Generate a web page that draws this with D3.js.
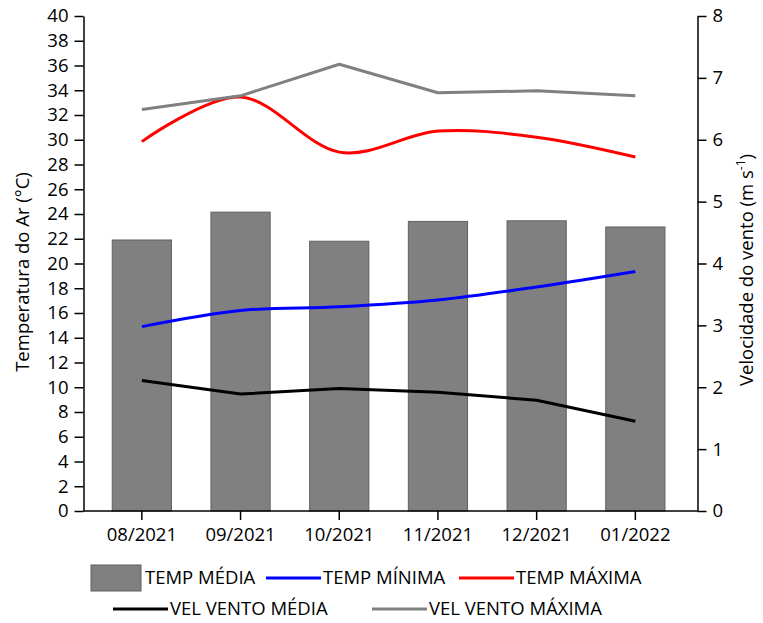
<!DOCTYPE html>
<html>
<head>
<meta charset="utf-8">
<script src="https://cdn.jsdelivr.net/npm/d3@7/dist/d3.min.js"></script>
<style>
  html, body { margin: 0; padding: 0; background: #fff; }
  svg { display: block; font-family: "Open Sans", "Liberation Sans", sans-serif; }
</style>
</head>
<body>
<svg id="chart" width="763" height="623"></svg>
<script>
// Monthly air temperature (left axis, °C) and wind speed (right axis, m/s)
const months = ["08/2021", "09/2021", "10/2021", "11/2021", "12/2021", "01/2022"];
const tempMedia  = [21.9, 24.15, 21.8, 23.4, 23.45, 22.95];
const tempMinima = [14.9, 16.2, 16.5, 17.05, 18.1, 19.35];
const tempMaxima = [29.85, 33.45, 29.0, 30.7, 30.2, 28.6];
const ventoMedia  = [2.11, 1.89, 1.98, 1.92, 1.79, 1.45];
const ventoMaxima = [6.49, 6.71, 7.22, 6.76, 6.79, 6.71];
const tempTicks  = d3.range(0, 41, 2);
const ventoTicks = d3.range(0, 9, 1);

const svg = d3.select("#chart");
const fontSize = 18.5;

const axisLeftX = 83.5, axisRightX = 697.5, plotTop = 16, plotBottom = 511;

const x = d3.scaleBand().domain(months).range([92.5, 684.7]).paddingInner(0.4).paddingOuter(0.2);
const yT = d3.scaleLinear().domain([0, 40]).range([plotBottom, plotTop]);
const yV = d3.scaleLinear().domain([0, 8]).range([plotBottom, plotTop]);
const cx = d => x(d) + x.bandwidth() / 2;

// Bars: mean temperature
svg.append("g").selectAll("rect").data(months).join("rect")
  .attr("x", d => x(d))
  .attr("y", (d, i) => yT(tempMedia[i]))
  .attr("width", x.bandwidth())
  .attr("height", (d, i) => plotBottom - yT(tempMedia[i]))
  .attr("fill", "#808080")
  .attr("stroke", "#606060")
  .attr("stroke-width", 1);

// Lines
const smooth = d3.curveCardinal.tension(0);
function drawLine(values, yScale, color, curve) {
  const line = d3.line()
    .x((v, i) => cx(months[i]))
    .y(v => yScale(v))
    .curve(curve);
  svg.append("path")
    .datum(values)
    .attr("d", line)
    .attr("fill", "none")
    .attr("stroke", color)
    .attr("stroke-width", 3)
    .attr("stroke-linejoin", "round");
}
drawLine(tempMinima, yT, "#0000ff", smooth);
drawLine(tempMaxima, yT, "#ff0000", smooth);
drawLine(ventoMedia, yV, "#000000", d3.curveLinear);
drawLine(ventoMaxima, yV, "#808080", d3.curveLinear);

// Axes
function styleAxis(g) {
  g.selectAll("path.domain").attr("stroke", "#000").attr("stroke-width", 1.5);
  g.selectAll(".tick line").attr("stroke", "#000").attr("stroke-width", 1.5);
  g.selectAll(".tick text").attr("font-size", fontSize).attr("fill", "#000")
    .style("font-family", "'Open Sans', 'Liberation Sans', sans-serif");
}

svg.append("g")
  .attr("transform", `translate(${axisLeftX},0)`)
  .call(d3.axisLeft(yT).tickValues(tempTicks).tickSize(9).tickSizeOuter(0).tickPadding(6))
  .call(styleAxis);

svg.append("g")
  .attr("transform", `translate(${axisRightX},0)`)
  .call(d3.axisRight(yV).tickValues(ventoTicks).tickSize(9).tickSizeOuter(0).tickPadding(6))
  .call(styleAxis);

const xAxis = svg.append("g")
  .attr("transform", `translate(0,${plotBottom})`)
  .call(d3.axisBottom(x).tickSize(9).tickSizeOuter(0).tickPadding(8))
  .call(styleAxis);
xAxis.select("path.domain").remove();
svg.append("line")
  .attr("x1", axisLeftX).attr("x2", axisRightX)
  .attr("y1", plotBottom).attr("y2", plotBottom)
  .attr("stroke", "#000").attr("stroke-width", 1.5);

// Axis titles
svg.append("text")
  .attr("transform", `translate(29,272) rotate(-90)`)
  .attr("text-anchor", "middle")
  .attr("font-size", fontSize)
  .text("Temperatura do Ar (°C)");

const rt = svg.append("text")
  .attr("transform", `translate(753,270) rotate(-90)`)
  .attr("text-anchor", "middle")
  .attr("font-size", fontSize);
rt.append("tspan").text("Velocidade do vento (m s");
rt.append("tspan").attr("baseline-shift", "super").attr("font-size", fontSize * 0.65).text("-1");
rt.append("tspan").text(")");

// Legend
const legend = svg.append("g").attr("font-size", fontSize);
const row1 = 578, row2 = 609;
legend.append("rect")
  .attr("x", 91).attr("y", 565).attr("width", 50).attr("height", 26)
  .attr("fill", "#808080").attr("stroke", "#606060");
legend.append("text").attr("x", 145).attr("y", row1).attr("dy", "0.35em").text("TEMP MÉDIA");

const lineItems = [
  { x1: 266, y: row1, color: "#0000ff", label: "TEMP MÍNIMA" },
  { x1: 459, y: row1, color: "#ff0000", label: "TEMP MÁXIMA" },
  { x1: 113, y: row2, color: "#000000", label: "VEL VENTO MÉDIA" },
  { x1: 372, y: row2, color: "#808080", label: "VEL VENTO MÁXIMA" }
];
lineItems.forEach(it => {
  legend.append("line")
    .attr("x1", it.x1).attr("x2", it.x1 + 55)
    .attr("y1", it.y).attr("y2", it.y)
    .attr("stroke", it.color).attr("stroke-width", 3);
  legend.append("text")
    .attr("x", it.x1 + 57).attr("y", it.y).attr("dy", "0.35em")
    .text(it.label);
});
</script>
</body>
</html>
